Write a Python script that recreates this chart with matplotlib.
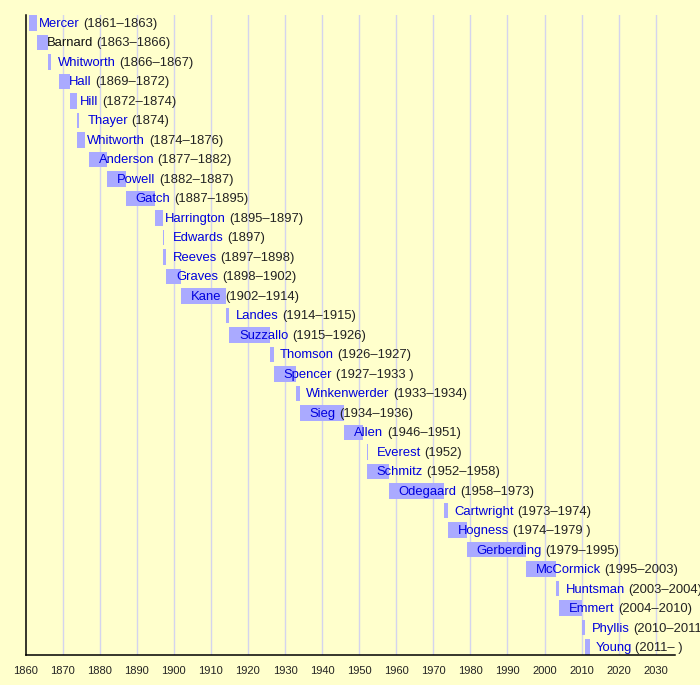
import matplotlib.pyplot as plt
from matplotlib.transforms import offset_copy

# presidents, bar start / end (years), and the label shown after the name
names = ["Mercer", "Barnard", "Whitworth", "Hall", "Hill", "Thayer", "Whitworth",
         "Anderson", "Powell", "Gatch", "Harrington", "Edwards", "Reeves", "Graves",
         "Kane", "Landes", "Suzzallo", "Thomson", "Spencer", "Winkenwerder", "Sieg",
         "Allen", "Everest", "Schmitz", "Odegaard", "Cartwright", "Hogness",
         "Gerberding", "McCormick", "Huntsman", "Emmert", "Phyllis", "Young"]
starts = [1861, 1863, 1866, 1869, 1872, 1874, 1874, 1877, 1882, 1887, 1895, 1897,
          1897, 1898, 1902, 1914, 1915, 1926, 1927, 1933, 1934, 1946, 1952, 1952,
          1958, 1973, 1974, 1979, 1995, 2003, 2004, 2010, 2011]
ends = [1863, 1866, 1867, 1872, 1874, 1874, 1876, 1882, 1887, 1895, 1897, 1897,
        1898, 1902, 1914, 1915, 1926, 1927, 1933, 1934, 1946, 1951, 1952, 1958,
        1973, 1974, 1979, 1995, 2003, 2004, 2010, 2011, 2012.3]
year_labels = ["(1861–1863)", "(1863–1866)", "(1866–1867)", "(1869–1872)",
               "(1872–1874)", "(1874)", "(1874–1876)", "(1877–1882)", "(1882–1887)",
               "(1887–1895)", "(1895–1897)", "(1897)", "(1897–1898)", "(1898–1902)",
               "(1902–1914)", "(1914–1915)", "(1915–1926)", "(1926–1927)",
               "(1927–1933 )", "(1933–1934)", "(1934–1936)", "(1946–1951)", "(1952)",
               "(1952–1958)", "(1958–1973)", "(1973–1974)", "(1974–1979 )",
               "(1979–1995)", "(1995–2003)", "(2003–2004)", "(2004–2010)",
               "(2010–2011)", "(2011– )"]
name_colors = ["#0000dd"] * len(names)
name_colors[1] = "#111111"  # Barnard is not linked

decades = list(range(1860, 2031, 10))

plt.rcParams['font.family'] = ['Liberation Sans', 'DejaVu Sans']
bg = "#ffffcc"

fig = plt.figure(figsize=(7, 6.85), dpi=100, facecolor=bg)
ax = fig.add_axes([25.5 / 700, 30 / 685, (675 - 25.5) / 700, 640 / 685])
ax.set_facecolor(bg)

rows = list(range(len(names)))
# one-year terms still get a thin visible bar
widths = [max(e - s, 0.35) for s, e in zip(starts, ends)]
ax.barh(rows, widths, left=starts, height=0.8, color="#aaaaff", zorder=2)

for x in decades[1:]:
    ax.axvline(x, color="#d4d4ee", lw=1, zorder=1)

ax.set_xlim(1860, 2035.2)
ax.set_ylim(len(names) - 1 + 0.4, -0.4)
ax.set_xticks(decades)
ax.tick_params(axis='x', length=0, pad=8, labelsize=8, colors="#222222")
ax.set_yticks([])
for s in ['top', 'right']:
    ax.spines[s].set_visible(False)
ax.spines['left'].set_linewidth(1.1)
ax.spines['bottom'].set_linewidth(1.1)

name_texts = []
for i in rows:
    tr = offset_copy(ax.transData, fig, x=10, y=0, units='dots')
    t = ax.text(starts[i], i + 0.2, names[i], color=name_colors[i], fontsize=9.4,
                va='baseline', ha='left', transform=tr, zorder=3, clip_on=False)
    name_texts.append(t)

fig.canvas.draw()
for i, t in enumerate(name_texts):
    w = t.get_window_extent().width
    tr = offset_copy(ax.transData, fig, x=10 + w + 3.5, y=0, units='dots')
    ax.text(starts[i], i + 0.2, year_labels[i], color="#222222", fontsize=9.4,
            va='baseline', ha='left', transform=tr, zorder=3, clip_on=False)

fig.savefig("out.png", dpi=100, facecolor=bg)
